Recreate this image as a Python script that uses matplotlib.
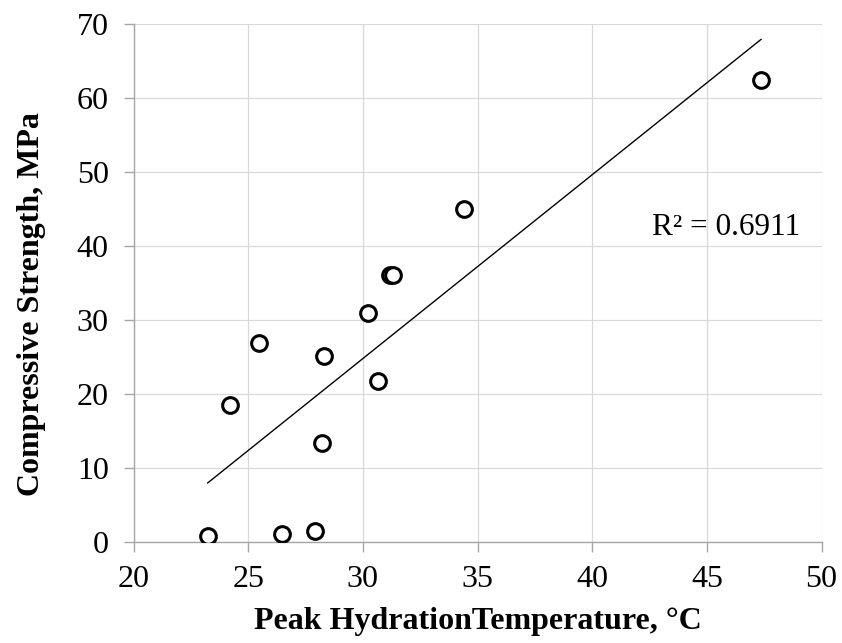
import numpy as np
import matplotlib
matplotlib.use('Agg')
import matplotlib.pyplot as plt

plt.rcParams['font.family'] = ['Liberation Serif', 'DejaVu Serif']

# peak hydration temperature (°C) vs compressive strength (MPa)
peak_temp = [23.23, 24.19, 25.47, 26.46, 27.92, 28.22, 28.32,
             30.22, 30.66, 31.18, 31.29, 34.41, 47.36]
strength = [0.89, 18.55, 27.0, 1.12, 1.53, 13.46, 25.18,
            30.95, 21.8, 36.1, 36.1, 45.05, 62.5]
r2_label = 'R² = 0.6911'

x = np.array(peak_temp)
y = np.array(strength)
slope, intercept = np.polyfit(x, y, 1)
xfit = np.array([x.min(), x.max()])

fig = plt.figure(figsize=(8.42, 6.43), dpi=100)
ax = fig.add_axes([0.1587, 0.1566, 0.8170, 0.8056])

ax.plot(xfit, slope * xfit + intercept, color='black', lw=1.0, zorder=2)
ax.plot(x, y, ls='none', marker='o', ms=11.3, mfc='white', mec='black',
        mew=2.2, zorder=3)
ax.text(42.6, 42.6, r2_label, fontsize=22.5, va='center', ha='left')

ax.set_xlim(20, 50)
ax.set_ylim(0, 70)
ax.set_xticks(np.arange(20, 51, 5))
ax.set_yticks(np.arange(0, 71, 10))
ax.grid(True, color='#d9d9d9', lw=0.9)
ax.set_axisbelow(True)
for side in ['top', 'right']:
    ax.spines[side].set_visible(False)
for side in ['left', 'bottom']:
    ax.spines[side].set_color('#a6a6a6')
    ax.spines[side].set_linewidth(1.0)
ax.tick_params(axis='both', labelsize=23, color='#a6a6a6', length=7,
               width=1.0, direction='out')
ax.tick_params(axis='y', pad=11)
ax.tick_params(axis='x', pad=9)

ax.set_xlabel('Peak HydrationTemperature, °C', fontsize=23, fontweight='bold',
              labelpad=10)
ax.set_ylabel('Compressive Strength, MPa', fontsize=23, fontweight='bold',
              labelpad=22)
ax.yaxis.label.set_y(0.46)

fig.savefig('out.png', dpi=100)
